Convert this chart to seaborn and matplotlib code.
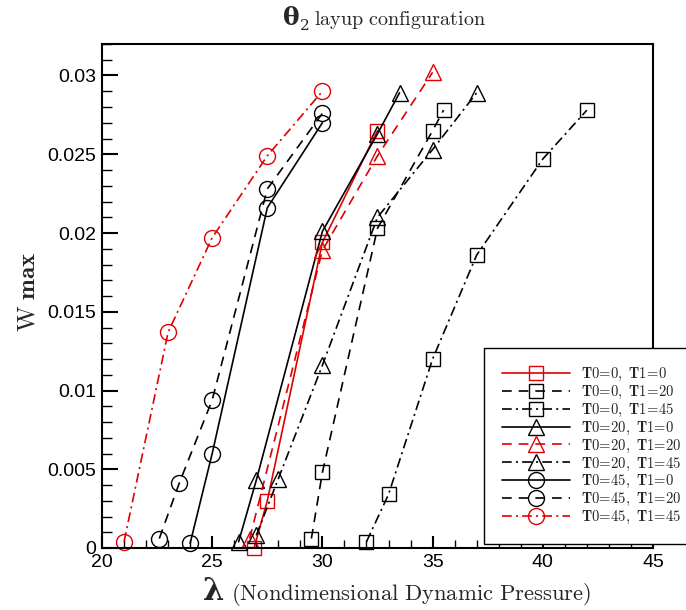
import numpy as np
import pandas as pd
import seaborn as sns
import matplotlib.pyplot as plt
from matplotlib.ticker import MultipleLocator, FormatStrFormatter

# Wmax vs lambda for the theta2 layup, one curve per (T0, T1) pair
labels = ["T0=0, T1=0", "T0=0, T1=20", "T0=0, T1=45",
          "T0=20, T1=0", "T0=20, T1=20", "T0=20, T1=45",
          "T0=45, T1=0", "T0=45, T1=20", "T0=45, T1=45"]

lam_00_00 = [26.9, 27.5, 30.0, 32.5]
w_00_00 = [0.0, 0.0030, 0.0194, 0.0265]
lam_00_20 = [29.5, 30.0, 32.5, 35.0, 35.5]
w_00_20 = [0.0006, 0.0048, 0.0203, 0.0265, 0.0278]
lam_00_45 = [32.0, 33.0, 35.0, 37.0, 40.0, 42.0]
w_00_45 = [0.0004, 0.0034, 0.0120, 0.0186, 0.0247, 0.0278]

lam_20_00 = [26.2, 27.0, 30.0, 32.5, 33.5]
w_20_00 = [0.0004, 0.0043, 0.0201, 0.0263, 0.0289]
lam_20_20 = [26.7, 30.0, 32.5, 35.0]
w_20_20 = [0.0006, 0.0189, 0.0249, 0.0302]
lam_20_45 = [27.0, 28.0, 30.0, 32.5, 35.0, 37.0]
w_20_45 = [0.0008, 0.0044, 0.0116, 0.0210, 0.0253, 0.0289]

lam_45_00 = [24.0, 25.0, 27.5, 30.0]
w_45_00 = [0.0003, 0.0060, 0.0216, 0.0270]
lam_45_20 = [22.6, 23.5, 25.0, 27.5, 30.0]
w_45_20 = [0.0006, 0.0041, 0.0094, 0.0228, 0.0276]
lam_45_45 = [21.0, 23.0, 25.0, 27.5, 30.0]
w_45_45 = [0.0004, 0.0137, 0.0197, 0.0249, 0.0290]

series = [(lam_00_00, w_00_00), (lam_00_20, w_00_20), (lam_00_45, w_00_45),
          (lam_20_00, w_20_00), (lam_20_20, w_20_20), (lam_20_45, w_20_45),
          (lam_45_00, w_45_00), (lam_45_20, w_45_20), (lam_45_45, w_45_45)]

# styles
red = "#e00000"
solid = "-"
dash = (0, (7, 5))
dashdot = (0, (7, 3, 1.5, 3))
colors = [red, "black", "black", "black", red, "black", "black", "black", red]
styles = [solid, dash, dashdot, solid, dash, dashdot, solid, dash, dashdot]
markers = ["s", "s", "s", "^", "^", "^", "o", "o", "o"]
msizes = [9.5, 9.5, 9.5, 11, 11, 11, 11.5, 11.5, 11.5]

sns.set_style("ticks")
plt.rcParams["mathtext.fontset"] = "cm"
plt.rcParams["lines.scale_dashes"] = False
plt.rcParams["font.family"] = ["Liberation Sans", "DejaVu Sans"]

fig = plt.figure(figsize=(6.86, 6.10), dpi=100)
ax = fig.add_axes([102 / 686, 62 / 610, 551 / 686, 504 / 610])

for (xs, ys), lab, c, ls, m, ms in zip(series, labels, colors, styles, markers, msizes):
    a, b = lab.split(", ")
    tex = r"$\mathbf{" + a.replace("=", r"\!=\!") + r",\ " + b.replace("=", r"\!=\!") + "}$"
    sns.lineplot(x=xs, y=ys, ax=ax, sort=False, estimator=None, color=c,
                 linestyle=ls, linewidth=1.2, marker=m, markersize=ms,
                 markerfacecolor="none", markeredgecolor=c, markeredgewidth=1.0,
                 label=tex, clip_on=False)

ax.set_xlim(20, 45)
ax.set_ylim(0, 0.032)
ax.xaxis.set_major_locator(MultipleLocator(5))
ax.xaxis.set_minor_locator(MultipleLocator(1))
ax.yaxis.set_major_locator(MultipleLocator(0.005))
ax.yaxis.set_minor_locator(MultipleLocator(0.001))
ax.yaxis.set_major_formatter(FormatStrFormatter("%g"))
ax.tick_params(axis="both", which="both", direction="in", labelsize=14,
               colors="black", top=False, right=False)
ax.tick_params(axis="x", which="major", length=8.5, width=1.5, pad=4)
ax.tick_params(axis="x", which="minor", length=5.5, width=1.0)
ax.tick_params(axis="y", which="major", length=11.5, width=1.5, pad=4)
ax.tick_params(axis="y", which="minor", length=7, width=1.0)
for sp in ax.spines.values():
    sp.set_visible(True)
    sp.set_linewidth(1.5)
    sp.set_color("black")
ax.set_xlabel("")
ax.set_ylabel("")

leg = ax.legend(loc="upper left", bbox_to_anchor=(484 / 686, 1 - 348 / 610),
                bbox_transform=fig.transFigure, frameon=True, fancybox=False,
                framealpha=1, edgecolor="black", fontsize=10.5, numpoints=1,
                handlelength=4.66, handletextpad=0.75, labelspacing=0.05,
                borderpad=1.23, borderaxespad=0)
leg.get_frame().set_linewidth(1.0)


def after(prev, s, y, dx=0, dy=0, **kw):
    # place a text piece just right of the previous one, on a shared baseline
    return ax.annotate(s, xy=(1, y), xycoords=(prev, "figure fraction"),
                       xytext=(dx, dy), textcoords="offset points",
                       ha="left", va="baseline", annotation_clip=False, **kw)


# title
ty = 1 - 25 / 610
t1 = fig.text(283 / 686, ty, "θ", family="DejaVu Serif", weight="bold",
              fontsize=18, va="baseline")
t2 = after(t1, "2", ty, dx=0.5, dy=-3.5, fontsize=11, family="DejaVu Serif")
after(t2, r"$\mathrm{layup\ configuration}$", ty, dx=3, fontsize=14.5)

# x label
xy_ = 10 / 610
l1 = fig.text(203 / 686, xy_, "λ", family="DejaVu Serif", weight="bold",
              fontsize=22, va="baseline")
after(l1, r"$\mathrm{(Nondimensional\ Dynamic\ Pressure)}$", xy_, dx=5, fontsize=16.3)

# y label
fig.text(28 / 686, 1 - 292 / 610, r"$\mathrm{W}\ \mathbf{max}$", rotation=90,
         ha="center", va="center", fontsize=18)

fig.savefig("out.png", dpi=100)
